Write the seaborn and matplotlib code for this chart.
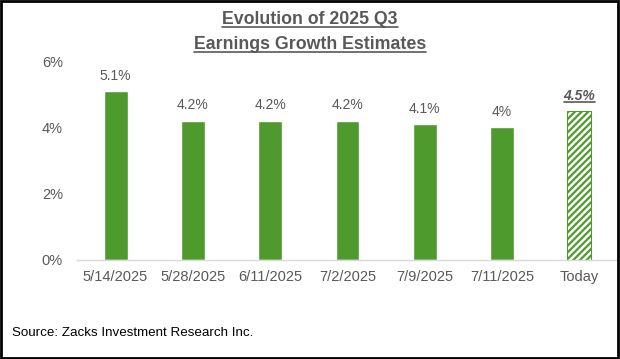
import matplotlib
matplotlib.use("Agg")
import matplotlib.pyplot as plt
import seaborn as sns
import pandas as pd
from matplotlib.lines import Line2D
from matplotlib.patches import Rectangle

# Данные графика
dates = ["5/14/2025", "5/28/2025", "6/11/2025", "7/2/2025", "7/9/2025", "7/11/2025", "Today"]
growth = [5.1, 4.2, 4.2, 4.2, 4.1, 4.0, 4.5]
value_labels = ["5.1%", "4.2%", "4.2%", "4.2%", "4.1%", "4%", "4.5%"]
y_ticks = [0, 2, 4, 6]

green = "#4F9A2C"
gray = "#595959"

sns.set_style("white")
plt.rcParams["font.family"] = ["Liberation Sans", "DejaVu Sans"]
plt.rcParams["hatch.color"] = green
plt.rcParams["hatch.linewidth"] = 1.6

data = pd.DataFrame({"date": dates, "growth": growth})

fig = plt.figure(figsize=(6.2, 3.59), dpi=100)
ax = fig.add_axes([0.124, 0.2758, 0.873, 0.554])

sns.barplot(x="date", y="growth", data=data, color=green, width=0.31,
            saturation=1, ax=ax)

# Последний столбец — штриховка
last = ax.patches[-1]
last.set_facecolor("white")
last.set_edgecolor(green)
last.set_hatch("/////")
last.set_linewidth(0.8)

ax.set_ylim(0, 6)
ax.set_xlim(-0.5, len(dates) - 0.5)
ax.set_yticks(y_ticks)
ax.set_yticklabels([f"{t}%" for t in y_ticks])
ax.set_xlabel("")
ax.set_ylabel("")
ax.tick_params(axis="both", colors=gray, labelsize=10.5, length=0)
ax.tick_params(axis="y", pad=10)
ax.tick_params(axis="x", pad=7)
for s in ["top", "right", "left"]:
    ax.spines[s].set_visible(False)
ax.spines["bottom"].set_color("#D9D9D9")
ax.spines["bottom"].set_linewidth(1)

# Подписи значений
texts = []
for i, (v, lab) in enumerate(zip(growth, value_labels)):
    if dates[i] == "Today":
        t = ax.text(i, v + 0.25, lab, ha="center", va="bottom", fontsize=10,
                    color=gray, fontweight="bold", fontstyle="italic")
        texts.append(t)
    else:
        ax.text(i, v + 0.25, lab, ha="center", va="bottom", fontsize=10,
                color=gray)

# Заголовок
t1 = fig.text(0.5, 0.947, "Evolution of 2025 Q3", ha="center", va="center",
              fontsize=12.8, fontweight="bold", color=gray)
t2 = fig.text(0.5, 0.877, "Earnings Growth Estimates", ha="center", va="center",
              fontsize=12.8, fontweight="bold", color=gray)
texts += [t1, t2]

fig.text(0.019, 0.072, "Source: Zacks Investment Research Inc.", ha="left",
         va="center", fontsize=9.6, color="black")

# Подчёркивание текста
fig.canvas.draw()
renderer = fig.canvas.get_renderer()
inv = fig.transFigure.inverted()
for t in texts:
    bb = t.get_window_extent(renderer)
    (x0, y0), (x1, y1) = inv.transform([[bb.x0, bb.y0], [bb.x1, bb.y1]])
    yl = y0 + (y1 - y0) * 0.05
    fig.add_artist(Line2D([x0, x1], [yl, yl], transform=fig.transFigure,
                          color=gray, linewidth=1.2))

# Рамка
fig.add_artist(Rectangle((0.002, 0.003), 0.995, 0.994, transform=fig.transFigure,
                         fill=False, edgecolor="black", linewidth=2))

fig.savefig("out.png", dpi=100)
